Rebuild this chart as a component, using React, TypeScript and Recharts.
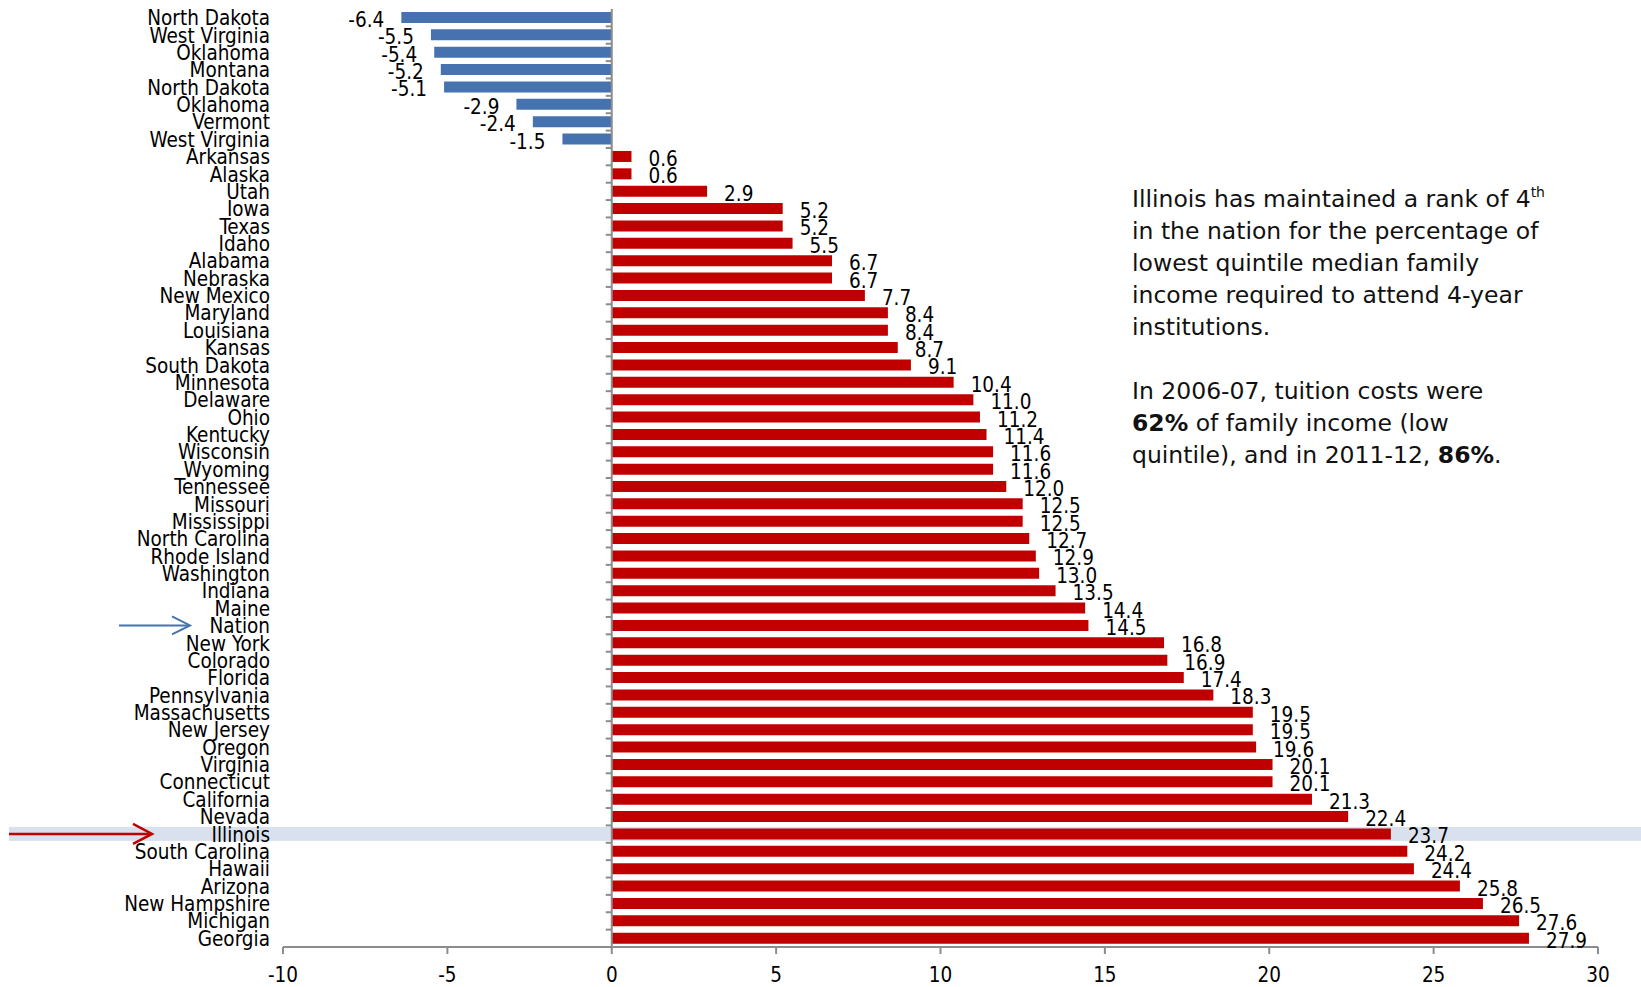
import { BarChart, Bar, XAxis, YAxis, Cell, LabelList, ReferenceLine } from 'recharts';

// states ranked by change, top to bottom
const states = [
  'North Dakota', 'West Virginia', 'Oklahoma', 'Montana', 'North Dakota', 'Oklahoma', 'Vermont', 'West Virginia',
  'Arkansas', 'Alaska', 'Utah', 'Iowa', 'Texas', 'Idaho', 'Alabama', 'Nebraska', 'New Mexico', 'Maryland',
  'Louisiana', 'Kansas', 'South Dakota', 'Minnesota', 'Delaware', 'Ohio', 'Kentucky', 'Wisconsin', 'Wyoming',
  'Tennessee', 'Missouri', 'Mississippi', 'North Carolina', 'Rhode Island', 'Washington', 'Indiana', 'Maine',
  'Nation', 'New York', 'Colorado', 'Florida', 'Pennsylvania', 'Massachusetts', 'New Jersey', 'Oregon',
  'Virginia', 'Connecticut', 'California', 'Nevada', 'Illinois', 'South Carolina', 'Hawaii', 'Arizona',
  'New Hampshire', 'Michigan', 'Georgia',
];

const changes = [
  -6.4, -5.5, -5.4, -5.2, -5.1, -2.9, -2.4, -1.5,
  0.6, 0.6, 2.9, 5.2, 5.2, 5.5, 6.7, 6.7, 7.7, 8.4,
  8.4, 8.7, 9.1, 10.4, 11.0, 11.2, 11.4, 11.6, 11.6,
  12.0, 12.5, 12.5, 12.7, 12.9, 13.0, 13.5, 14.4,
  14.5, 16.8, 16.9, 17.4, 18.3, 19.5, 19.5, 19.6,
  20.1, 20.1, 21.3, 22.4, 23.7, 24.2, 24.4, 25.8,
  26.5, 27.6, 27.9,
];

const xTicks = [-10, -5, 0, 5, 10, 15, 20, 25, 30];

const highlightState = 'Illinois';
const pointerState = 'Nation';

// duplicate state names, so key each row by index too
const rows = states.map((name, i) => ({ key: `${name}|${i}`, name, value: changes[i] }));

const FONT = '"DejaVu Sans Condensed", "DejaVu Sans", sans-serif';
const BLUE = '#4673AF';
const RED = '#C00000';
const AXIS = '#8C8C8C';

const CatTick = (props: any) => {
  const { x, y, payload } = props;
  return (
    <text x={x} y={y + 7.5} textAnchor="end" fontSize={20.5} fontFamily={FONT} fontStretch="condensed" fill="#000">
      {String(payload.value).split('|')[0]}
    </text>
  );
};

const ValueLabel = (props: any) => {
  const { x, y, width, height, value } = props;
  const left = Math.min(x, x + width);
  const right = Math.max(x, x + width);
  const neg = value < 0;
  return (
    <text
      x={neg ? left - 17 : right + 17}
      y={y + height / 2 + 9.5}
      textAnchor={neg ? 'end' : 'start'}
      fontSize={20.5}
      fontFamily={FONT}
      fontStretch="condensed"
      fill="#000"
    >
      {Number(value).toFixed(1)}
    </text>
  );
};

// highlight band + arrows, drawn behind the bars
const RowBackground = (props: any) => {
  const { index, y, height } = props;
  const row = rows[index];
  const cy = y + height / 2;
  if (row && row.name === highlightState) {
    return (
      <g>
        <rect x={9} y={cy - 7} width={1632} height={14} fill="#DAE1EE" />
        <line x1={9} y1={cy} x2={151} y2={cy} stroke={RED} strokeWidth={2.5} />
        <polyline points={`133,${cy - 10} 152,${cy} 133,${cy + 10}`} fill="none" stroke={RED} strokeWidth={2.5} />
      </g>
    );
  }
  if (row && row.name === pointerState) {
    return (
      <g>
        <line x1={119} y1={cy} x2={189} y2={cy} stroke={BLUE} strokeWidth={2} />
        <polyline points={`172,${cy - 9} 190,${cy} 172,${cy + 9}`} fill="none" stroke={BLUE} strokeWidth={2} />
      </g>
    );
  }
  return <g />;
};

const ZeroAxis = (props: any) => {
  const { x1, y1, y2 } = props;
  const step = (y2 - y1) / rows.length;
  return (
    <g>
      <line x1={x1} y1={y1} x2={x1} y2={y2} stroke={AXIS} strokeWidth={2} />
      {rows.map((_, i) => (
        <line key={i} x1={x1 - 6} x2={x1} y1={y1 + i * step} y2={y1 + i * step} stroke={AXIS} strokeWidth={2} />
      ))}
    </g>
  );
};

export default function App() {
  return (
    <div style={{ position: 'absolute', left: 0, top: 0, width: 1641, height: 987, background: '#fff' }}>
      <BarChart
        width={1641}
        height={987}
        data={rows}
        layout="vertical"
        barSize={11}
        margin={{ top: 9, right: 43, bottom: 0, left: 0 }}
      >
        <XAxis
          type="number"
          domain={[-10, 30]}
          ticks={xTicks}
          interval={0}
          height={40}
          axisLine={{ stroke: AXIS, strokeWidth: 2 }}
          tickLine={{ stroke: AXIS, strokeWidth: 2 }}
          tickSize={7}
          tickMargin={13}
          tick={{ fill: '#000', fontSize: 20.5, fontFamily: FONT }}
        />
        <YAxis
          type="category"
          dataKey="key"
          width={283}
          interval={0}
          axisLine={false}
          tickLine={false}
          tickSize={0}
          tickMargin={13}
          tick={<CatTick />}
        />
        <Bar dataKey="value" isAnimationActive={false} background={RowBackground}>
          {rows.map((r, i) => (
            <Cell key={i} fill={r.value < 0 ? BLUE : RED} />
          ))}
          <LabelList dataKey="value" content={<ValueLabel />} />
        </Bar>
        <ReferenceLine x={0} shape={ZeroAxis} />
      </BarChart>
      <div
        style={{
          position: 'absolute',
          left: 1132,
          top: 183,
          fontFamily: '"DejaVu Sans", sans-serif',
          fontSize: 23.5,
          lineHeight: '32px',
          color: '#111',
          whiteSpace: 'nowrap',
        }}
      >
        Illinois has maintained a rank of 4<sup style={{ fontSize: 14, verticalAlign: 'top', lineHeight: '18px' }}>th</sup>
        <br />
        in the nation for the percentage of
        <br />
        lowest quintile median family
        <br />
        income required to attend 4-year
        <br />
        institutions.
        <br />
        <br />
        In 2006-07, tuition costs were
        <br />
        <b>62%</b> of family income (low
        <br />
        quintile), and in 2011-12, <b>86%</b>.
      </div>
    </div>
  );
}
